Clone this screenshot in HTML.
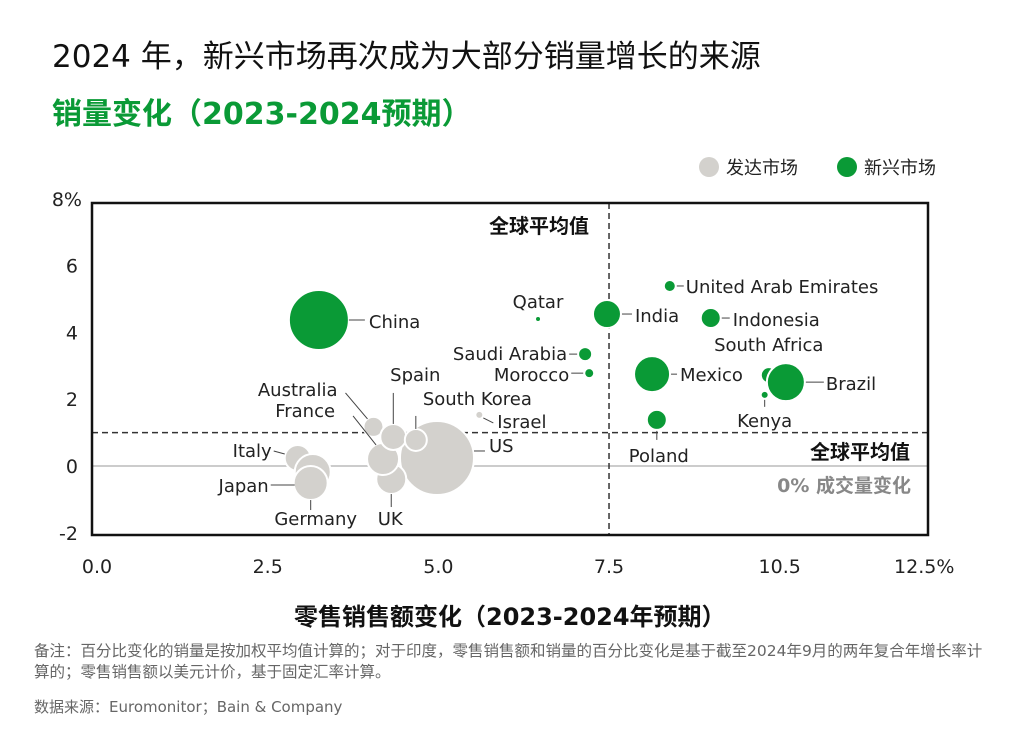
<!DOCTYPE html>
<html><head><meta charset="utf-8">
<style>
body{margin:0;background:#fff;font-family:"Liberation Sans","Noto Sans CJK SC",sans-serif;}
#wrap{position:relative;width:1012px;height:736px;overflow:hidden;}
.t{position:absolute;white-space:nowrap;}
svg text{font-family:"DejaVu Sans","Noto Sans CJK SC",sans-serif;}
</style></head><body>
<div id="wrap">
<div class="t" style="left:52px;top:31px;font-size:31px;color:#111;font-family:'DejaVu Sans','Noto Sans CJK SC',sans-serif;">2024 年，新兴市场再次成为大部分销量增长的来源</div>
<div class="t" style="left:52px;top:89px;font-size:30px;font-weight:bold;color:#0a9a36;font-family:'DejaVu Sans','Noto Sans CJK SC',sans-serif;">销量变化（2023-2024预期）</div>
<svg id="chart" width="1012" height="736" style="position:absolute;left:0;top:0"></svg>
<div class="t" style="left:294px;top:597px;font-size:24px;font-weight:bold;color:#111;font-family:'DejaVu Sans','Noto Sans CJK SC',sans-serif;">零售销售额变化（2023-2024年预期）</div>
<div class="t" style="left:34px;top:641px;font-size:15.5px;color:#666;line-height:21px;white-space:normal;width:950px;font-family:'DejaVu Sans','Noto Sans CJK SC',sans-serif;">备注：百分比变化的销量是按加权平均值计算的；对于印度，零售销售额和销量的百分比变化是基于截至2024年9月的两年复合年增长率计算的；零售销售额以美元计价，基于固定汇率计算。</div>
<div class="t" style="left:34px;top:696px;font-size:15px;color:#666;font-family:'DejaVu Sans','Noto Sans CJK SC',sans-serif;">数据来源：Euromonitor；Bain &amp; Company</div>
</div>
<script>
const names=["China","US","Italy","Japan","Germany","UK","France","Australia","Spain","South Korea","Israel","Qatar","India","Saudi Arabia","Morocco","United Arab Emirates","Indonesia","Mexico","Poland","South Africa","Brazil","Kenya"];
const salesChange=[3.25,4.98,2.94,3.16,3.13,4.31,4.19,4.05,4.34,4.67,5.6,6.46,7.47,7.15,7.21,8.39,8.99,8.13,8.2,9.84,10.09,9.78];
const volumeChange=[4.37,0.24,0.24,-0.18,-0.51,-0.39,0.21,1.17,0.87,0.78,1.53,4.40,4.55,3.35,2.78,5.39,4.43,2.75,1.38,2.72,2.51,2.13];
const marketSize=[30,37,13,18,17,15,16,10,13,11,4,3,14,7,5,6,10,18,10,8,19,4];
const emerging=[1,0,0,0,0,0,0,0,0,0,0,1,1,1,1,1,1,1,1,1,1,1];
const xTicks=[0,2.5,5,7.5,10,12.5];
const xTickLabels=["0.0","2.5","5.0","7.5","10.5","12.5%"];
const yTicks=[-2,0,2,4,6,8];
const yTickLabels=["-2","0","2","4","6","8%"];
const avgX=7.5, avgY=1.0;
const lab=[[50,8,"start",30,0,46,0],[52,-6,"start",37,-7,48,-7],[-26,-1,"end",-13,-4,-24,-7],[-44,20,"end",-18,13,-42,13],[5,42,"middle",0,17,0,27],[-1,46,"middle",0,15,0,28],[-48,-42,"end",-7,-14,-30,-43],[-36,-31,"end",-6,-8,-28,-34],[22,-56,"middle",0,-13,0,-44],[7,-35,"start",0,-11,0,-24],[18,13,"start",4,3,14,8],[0,-11,"middle",0,0,0,0],[28,8,"start",15,0,25,0],[-18,6,"end",-8,0,-16,0],[-20,8,"end",-6,0,-18,0],[16,7,"start",7,0,14,0],[22,8,"start",11,0,19,0],[28,7,"start",19,0,25,0],[2,42,"middle",0,11,0,20],[0,-24,"middle",0,0,0,0],[40,8,"start",20,0,38,0],[0,32,"middle",0,5,0,12]];
const svg=document.getElementById('chart');
const NS="http://www.w3.org/2000/svg";
const X0=97,XU=68.27,Y0=466,YU=33.4;
const sx=v=>X0+v*XU, sy=v=>Y0-v*YU;
function mk(tag,attrs,parent){const e=document.createElementNS(NS,tag);for(const k in attrs)e.setAttribute(k,attrs[k]);(parent||svg).appendChild(e);return e;}
let e=mk('line',{x1:92,x2:928,y1:sy(0),y2:sy(0),stroke:'#bbb','stroke-width':1.5});


e=mk('line',{x1:92,x2:928,y1:sy(avgY),y2:sy(avgY),stroke:'#333','stroke-width':1.5,'stroke-dasharray':'6,4'});


e=mk('line',{x1:sx(avgX),x2:sx(avgX),y1:203,y2:535,stroke:'#333','stroke-width':1.5,'stroke-dasharray':'6,4'});


const order=names.map((n,i)=>i).sort((a,b)=>(emerging[a]-emerging[b])||0);
order.forEach(i=>{
 const c=mk('circle',{cx:sx(salesChange[i]),cy:sy(volumeChange[i]),r:marketSize[i],fill:emerging[i]?'#0a9a36':'#d3d1cd',stroke:'#fff','stroke-width':2});
 
 
});
names.forEach((n,i)=>{
 const cx=sx(salesChange[i]),cy=sy(volumeChange[i]);const L=lab[i];
 if(L[3]||L[4]||L[5]||L[6]){const l=mk('line',{x1:cx+L[3],y1:cy+L[4],x2:cx+L[5],y2:cy+L[6],stroke:'#444','stroke-width':1});
 
 }
 const t=mk('text',{x:cx+L[0],y:cy+L[1],'text-anchor':L[2],'font-size':18,fill:'#222'});t.textContent=n;
 
 
});
e=mk('rect',{x:92,y:203,width:836,height:332,fill:'none',stroke:'#111','stroke-width':2.5});


xTicks.forEach((v,i)=>{const last=i==xTicks.length-1;const t=mk('text',{x:last?sx(v)+4:sx(v),y:573,'text-anchor':last?'end':'middle','font-size':19,fill:'#222'});t.textContent=xTickLabels[i];
 
 });
yTicks.forEach((v,i)=>{const t=mk('text',{x:i==yTicks.length-1?82:78,y:sy(v)+7,'text-anchor':'end','font-size':19,fill:'#222'});t.textContent=yTickLabels[i];
 
 });
const notes=[[489,233,"全球平均值","start",'#111',20],[810,459,"全球平均值","start",'#111',20],[911,492,"0% 成交量变化","end",'#888',19]];
notes.forEach(n=>{const t=mk('text',{x:n[0],y:n[1],'text-anchor':n[3],'font-size':n[5],'font-weight':'bold',fill:n[4]});t.textContent=n[2];
 
 });
[[709,"#d3d1cd","发达市场"],[847,"#0a9a36","新兴市场"]].forEach(g=>{
 const c=mk('circle',{cx:g[0],cy:167,r:10,fill:g[1]});
 
 
 const t=mk('text',{x:g[0]+17,y:174,'font-size':18,fill:'#222'});t.textContent=g[2];
 
 
});
</script>
</body></html>
